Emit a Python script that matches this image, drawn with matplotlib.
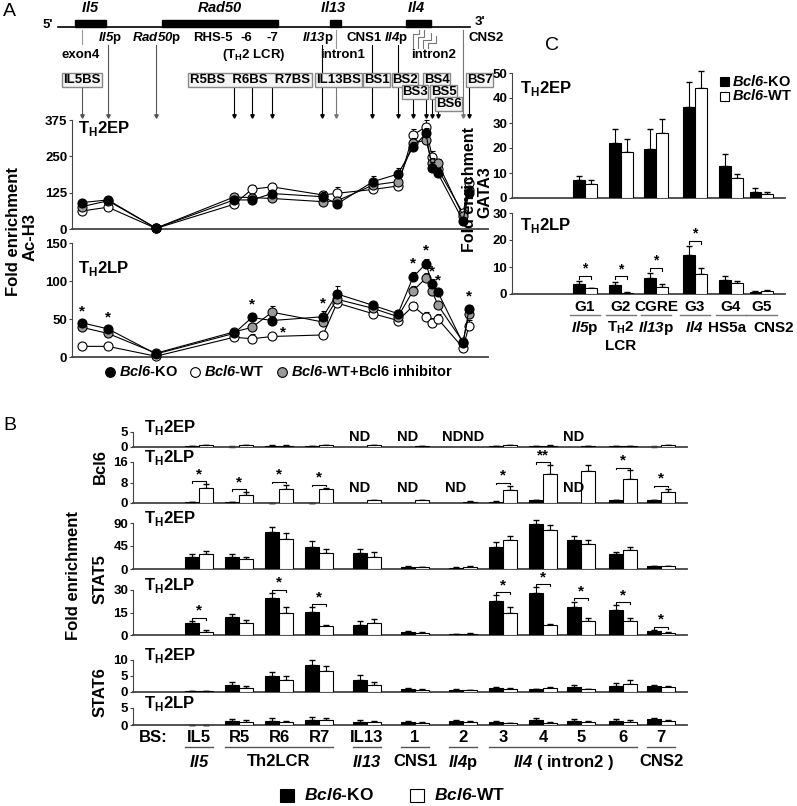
import numpy as np
import matplotlib
matplotlib.use("Agg")
import matplotlib.pyplot as plt
from matplotlib.patches import Rectangle

plt.rcParams['font.family'] = 'Liberation Sans'
plt.rcParams['font.weight'] = 'bold'
plt.rcParams['mathtext.fontset'] = 'custom'
plt.rcParams['mathtext.rm'] = 'Liberation Sans:bold'
plt.rcParams['mathtext.sf'] = 'Liberation Sans:italic:bold'
plt.rcParams['mathtext.bf'] = 'Liberation Sans:bold'

# ---------------- data ----------------
# panel A: Ac-H3 across the Th2 locus (site positions on the locus map)
a_sites = [82, 108, 156, 234, 252, 272, 323, 337, 373, 398, 413, 426, 432, 438, 463, 469]
ep_ko = [91, 100, 3, 100, 100, 122, 111, 86, 163, 189, 281, 329, 209, 191, 29, 125]
ep_wt = [62, 75, 2, 85, 137, 145, 117, 123, 136, 148, 323, 352, 249, 206, 54, 157]
ep_inh = [77, 97, 3, 110, 108, 105, 94, 97, 151, 163, 295, 306, 226, 226, 45, 134]
ep_ko_err = [8, 10, 1, 12, 15, 12, 15, 12, 18, 20, 20, 20, 20, 18, 6, 15]
ep_wt_err = [8, 10, 1, 15, 15, 12, 15, 22, 14, 18, 20, 22, 18, 15, 8, 18]
ep_inh_err = [8, 10, 1, 12, 12, 10, 12, 12, 15, 16, 18, 18, 18, 15, 6, 15]
lp_ko = [45, 37, 4, 31, 52, 48, 53, 83, 68, 57, 105, 123, 96, 85, 18, 63]
lp_wt = [14, 14, 1, 26, 24, 27, 29, 71, 57, 48, 67, 53, 45, 50, 12, 41]
lp_inh = [39, 31, 5, 33, 39, 59, 46, 76, 64, 53, 87, 104, 87, 68, 20, 57]
lp_ko_err = [4, 4, 1, 4, 6, 5, 7, 10, 5, 5, 7, 6, 6, 5, 3, 5]
lp_wt_err = [2, 2, 1, 3, 6, 5, 4, 5, 8, 5, 5, 6, 6, 6, 3, 8]
lp_inh_err = [4, 4, 1, 4, 6, 8, 5, 6, 6, 5, 6, 6, 6, 5, 3, 5]
lp_star = [0, 1, 4, 6, 10, 11, 12, 13, 15]

# panel B: binding sites
b_sites = ['IL5', 'R5', 'R6', 'R7', 'IL13', '1', '2', '3', '4', '5', '6', '7']
nan = np.nan
bcl6_ep_ko = [0.2, 0.1, 0.4, 0.3, nan, nan, nan, 0.3, 0.3, nan, 0.2, 0.1]
bcl6_ep_wt = [0.5, 0.6, 0.4, 0.6, 0.5, 0.2, nan, 0.5, 0.4, 0.3, 0.2, 0.5]
bcl6_ep_ko_err = [0.1] * 12
bcl6_ep_wt_err = [0.1] * 12
bcl6_lp_ko = [0.2, 0.2, 0.1, 0.1, nan, nan, nan, 0.5, 1.1, nan, 1.0, 1.0]
bcl6_lp_wt = [6.0, 3.3, 5.3, 5.3, 1.2, 1.2, 0.5, 4.9, 11.3, 12.3, 9.2, 4.2]
bcl6_lp_ko_err = [0.05, 0.05, 0.05, 0.05, 0, 0, 0, 0.1, 0.2, 0, 0.2, 0.2]
bcl6_lp_wt_err = [1.3, 1.0, 1.9, 0.7, 0.1, 0.1, 0.1, 1.9, 3.5, 2.5, 3.5, 1.4]
stat5_ep_ko = [23, 23, 72, 44, 31, 4.5, 2.5, 43, 88, 57, 29, 6]
stat5_ep_wt = [30, 20, 59, 31, 23, 3, 4.5, 57, 77, 49, 37, 5]
stat5_ep_ko_err = [7, 7, 10, 11, 8, 1, 0.5, 10, 8, 8, 5, 0.5]
stat5_ep_wt_err = [5, 3, 12, 9, 11, 0.5, 0.5, 8, 9, 7, 6, 0.5]
stat5_lp_ko = [7.9, 11.7, 24.4, 15.3, 7, 2.1, 0.8, 23, 28.2, 19, 16.6, 2.8]
stat5_lp_wt = [2.1, 7.9, 14.9, 5.7, 8, 1.5, 1.0, 14.9, 6.4, 9.6, 9.6, 1.5]
stat5_lp_ko_err = [1.4, 2.1, 3.6, 3.2, 2.5, 0.5, 0.2, 3.5, 3.6, 3.3, 3.1, 0.6]
stat5_lp_wt_err = [1.1, 2.1, 3.6, 1.1, 3, 0.3, 0.2, 3.6, 1.0, 1.7, 1.7, 0.3]
stat6_ep_ko = [0.2, 2.1, 4.9, 8.3, 3.9, 0.8, 0.6, 1.25, 0.8, 1.5, 1.9, 1.9]
stat6_ep_wt = [0.2, 1.25, 3.6, 6.5, 2.1, 0.7, 0.6, 0.8, 1.25, 0.8, 2.6, 1.5]
stat6_ep_ko_err = [0.05, 1.0, 1.35, 1.6, 1.3, 0.4, 0.2, 0.4, 0.2, 0.8, 0.9, 0.4]
stat6_ep_wt_err = [0.05, 0.5, 1.4, 1.5, 1.0, 0.2, 0.1, 0.4, 0.4, 0.2, 1.0, 0.3]
stat6_lp_ko = [0.1, 1.2, 1.3, 1.6, 1.0, 0.9, 1.3, 1.0, 1.5, 1.3, 1.3, 1.7]
stat6_lp_wt = [0.1, 1.0, 0.9, 1.4, 0.8, 0.7, 1.0, 0.6, 0.7, 0.9, 1.0, 1.1]
stat6_lp_ko_err = [0.02, 0.6, 0.7, 0.9, 0.5, 0.2, 0.2, 0.2, 0.7, 0.5, 0.5, 0.4]
stat6_lp_wt_err = [0.02, 0.5, 0.3, 0.7, 0.4, 0.1, 0.3, 0.1, 0.2, 0.4, 0.5, 0.3]
bcl6_lp_star = [0, 1, 2, 3, 7, 8, 10, 11]
stat5_lp_star = [0, 2, 3, 7, 8, 9, 10, 11]

# panel C: GATA3
c_sites = ['G1', 'G2', 'CGRE', 'G3', 'G4', 'G5']
c_regions = ['$\\mathsf{Il5}$p', 'T$_\\mathrm{H}$2', '$\\mathsf{Il13}$p', '$\\mathsf{Il4}$', 'HS5a', 'CNS2']
gata_ep_ko = [7.2, 22, 19.5, 36.5, 12.8, 2.6]
gata_ep_wt = [5.7, 18.5, 26, 44, 7.9, 1.7]
gata_ep_ko_err = [1.6, 5.5, 8, 10, 5, 1.3]
gata_ep_wt_err = [1.4, 5, 5.5, 7, 1.8, 0.9]
gata_lp_ko = [3.7, 3.3, 6.0, 14.4, 5.2, 0.9]
gata_lp_wt = [2.2, 0.5, 2.7, 7.4, 3.9, 1.1]
gata_lp_ko_err = [1.0, 1.2, 1.6, 3.2, 1.6, 0.2]
gata_lp_wt_err = [0.2, 0.1, 1.0, 2.4, 0.8, 0.4]
gata_lp_star = [0, 1, 2, 3]

# ---------------- figure ----------------
W, H = 797, 806
fig = plt.figure(figsize=(W / 100, H / 100), dpi=100)
AX_COL = '#444444'


def box(l, t, r, b):
    ax = fig.add_axes([l / W, 1 - b / H, (r - l) / W, (b - t) / H])
    ax.px = (t, b)
    return ax


def yfrac(ax, p):
    t, b = ax.px
    return (b - p) / (b - t)


def style(ax, ymax, ticks, fs=9.5):
    ax.set_ylim(0, ymax)
    ax.set_yticks(ticks)
    ax.set_yticklabels([str(t) for t in ticks], fontsize=fs, fontweight='bold')
    ax.set_xticks([])
    for s in ['top', 'right']:
        ax.spines[s].set_visible(False)
    ax.spines['left'].set_color(AX_COL)
    ax.spines['bottom'].set_color(AX_COL)
    ax.spines['left'].set_linewidth(0.8)
    ax.spines['bottom'].set_linewidth(1.3)
    ax.tick_params(axis='y', length=2.5, width=0.8, color=AX_COL, pad=1)
    ax.patch.set_alpha(0)


def hline(ax, x0, x1, p, color='#555555'):
    y = yfrac(ax, p)
    ax.plot([x0, x1], [y, y], color=color, lw=1, transform=ax.get_xaxis_transform(), clip_on=False)


def below(ax, x, txt, p, fs=12):
    ax.text(x, yfrac(ax, p), txt, transform=ax.get_xaxis_transform(), ha='center', va='center',
            fontsize=fs, clip_on=False)


# ---------- Panel A: locus map ----------
fig.text(3 / W, 1 - 11 / H, 'A', fontsize=14, fontweight='normal', va='center')
mp = box(0, 0, 500, 120)
mp.set_xlim(0, 500)
mp.set_ylim(120, 0)
mp.axis('off')
mp.plot([58, 470], [27, 27], color='k', lw=1.2)
for x0, w in [(75, 31), (162, 116), (330, 11), (406, 25)]:
    mp.add_patch(Rectangle((x0, 20), w, 7, color='k'))
for txt, x in [('$\\mathsf{Il5}$', 90), ('$\\mathsf{Rad50}$', 220), ('$\\mathsf{Il13}$', 333), ('$\\mathsf{Il4}$', 416)]:
    mp.text(x, 8, txt, ha='center', va='center', fontsize=10.5)
mp.text(48, 25, "5'", ha='center', va='center', fontsize=9.5)
mp.text(480, 22, "3'", ha='center', va='center', fontsize=9.5)
for txt, x in [('$\\mathsf{Il5}$p', 110), ('$\\mathsf{Rad50}$p', 157), ('RHS-5', 213), ('-6', 246),
               ('-7', 272), ('$\\mathsf{Il13}$p', 318), ('CNS1', 364), ('$\\mathsf{Il4}$p', 396), ('CNS2', 486)]:
    mp.text(x, 38, txt, ha='center', va='center', fontsize=9.5)
for txt, x in [('exon4', 81), ('(T$_\\mathrm{H}$2 LCR)', 254), ('intron1', 343), ('intron2', 434)]:
    mp.text(x, 55, txt, ha='center', va='center', fontsize=9.5)
for txt, x0, x1, y in [('IL5BS', 62, 102, 80), ('R5BS  R6BS  R7BS', 188, 312, 80), ('IL13BS', 315, 362, 80),
                       ('BS1', 363, 390, 80), ('BS2', 392, 418, 80), ('BS4', 423, 450, 80), ('BS7', 466, 493, 80),
                       ('BS3', 402, 428, 92), ('BS5', 430, 457, 92), ('BS6', 435, 462, 104)]:
    mp.add_patch(Rectangle((x0, y - 7), x1 - x0, 14, facecolor='#f4f4f4', edgecolor='#888888', lw=1, zorder=3))
    mp.text((x0 + x1) / 2, y, txt, ha='center', va='center', fontsize=9.5, zorder=4)
# connector lines to the sites
line_spans = [(82, 30, 44, '#999999'), (82, 87, 116, '#555555'), (108, 45, 116, '#555555'),
              (156, 45, 116, '#555555'), (234, 87, 116, 'k'), (252, 87, 116, 'k'), (272, 87, 116, 'k'),
              (322, 45, 116, 'k'), (336, 30, 48, '#999999'), (336, 87, 116, '#777777'),
              (372, 45, 116, 'k'), (398, 45, 116, 'k'), (413, 99, 116, 'k'), (426, 87, 116, 'k'),
              (432, 99, 116, 'k'), (438, 111, 116, 'k'), (463, 30, 116, '#777777'), (469, 87, 116, 'k')]
for x, y0, y1, c in line_spans:
    mp.plot([x, x], [y0, y1], color=c, lw=0.8, zorder=1)
    if y1 > 110:
        mp.plot(x, y1, marker='v', ms=2.5, color=c, zorder=1)
for xs, ys in [([413, 413, 419, 419], [48, 34, 34, 30]), ([418, 418, 424, 424], [48, 37, 37, 30]),
               ([423, 423, 431, 431], [48, 40, 40, 33]), ([428, 428, 436, 436], [48, 43, 43, 36])]:
    mp.plot(xs, ys, color='#777777', lw=0.8)

# ---------- Panel A: Ac-H3 line plots ----------
def a_plot(ax, ko, wt, inh, ko_e, wt_e, inh_e):
    for vals, errs, fc, z in [(wt, wt_e, 'white', 3), (inh, inh_e, '#9a9a9a', 4), (ko, ko_e, 'black', 5)]:
        ax.errorbar(a_sites, vals, yerr=[np.zeros(len(errs)), errs], fmt='-o', color='black', lw=0.8,
                    ms=6.5, mfc=fc, mec='black', mew=0.8, capsize=1.8, elinewidth=0.7, zorder=z,
                    clip_on=False)
    ax.set_xlim(72, 488)


ax_a1 = box(72, 120, 488, 229)
a_plot(ax_a1, ep_ko, ep_wt, ep_inh, ep_ko_err, ep_wt_err, ep_inh_err)
style(ax_a1, 375, [0, 125, 250, 375])
ax_a1.text(78, 345, 'T$_\\mathrm{H}$2EP', fontsize=12, va='center')

ax_a2 = box(72, 243, 488, 357)
a_plot(ax_a2, lp_ko, lp_wt, lp_inh, lp_ko_err, lp_wt_err, lp_inh_err)
style(ax_a2, 150, [0, 50, 100, 150])
ax_a2.text(78, 117, 'T$_\\mathrm{H}$2LP', fontsize=12, va='center')
for i in lp_star:
    ax_a2.annotate('*', (a_sites[i], lp_ko[i] + lp_ko_err[i]), xytext=(0, 1), textcoords='offset points',
                   ha='center', va='bottom', fontsize=11)
ax_a2.annotate('*', (a_sites[5], lp_ko[5]), xytext=(8, -14), textcoords='offset points',
               ha='center', va='bottom', fontsize=11)

fig.text(14 / W, 1 - 232 / H, 'Fold enrichment', rotation=90, ha='center', va='center', fontsize=12)
fig.text(30 / W, 1 - 237 / H, 'Ac-H3', rotation=90, ha='center', va='center', fontsize=12)

# legend A
lg = box(95, 362, 480, 382)
lg.set_xlim(95, 480)
lg.set_ylim(0, 1)
lg.axis('off')
for x, fc, txt in [(110, 'black', '$\\mathsf{Bcl6}$-KO'), (195, 'white', '$\\mathsf{Bcl6}$-WT'),
                   (282, '#9a9a9a', '$\\mathsf{Bcl6}$-WT+Bcl6 inhibitor')]:
    lg.plot(x, 0.5, 'o', ms=7, mfc=fc, mec='black', mew=0.8)
    lg.text(x + 9, 0.5, txt, va='center', fontsize=10.5)

# ---------- Panel B ----------
fig.text(3 / W, 1 - 425 / H, 'B', fontsize=14, fontweight='normal', va='center')
b_pos = np.array([0, 1, 2, 3, 4.2, 5.4, 6.6, 7.6, 8.6, 9.55, 10.6, 11.55])
B_UNIT = 40.0
B_X0 = 199
bw = 0.35


def bar_pair(ax, pos, ko, wt, ko_e, wt_e, width):
    ko = np.array(ko, float)
    wt = np.array(wt, float)
    ax.bar(pos - width / 2, ko, width, color='black', edgecolor='black', lw=0.8, zorder=3)
    ax.bar(pos + width / 2, wt, width, color='white', edgecolor='black', lw=0.8, zorder=3)
    m = ~np.isnan(ko)
    ax.errorbar(pos[m] - width / 2, ko[m], yerr=[np.zeros(m.sum()), np.array(ko_e)[m]], fmt='none',
                ecolor='black', elinewidth=0.8, capsize=2, zorder=2, clip_on=False)
    m = ~np.isnan(wt)
    ax.errorbar(pos[m] + width / 2, wt[m], yerr=[np.zeros(m.sum()), np.array(wt_e)[m]], fmt='none',
                ecolor='black', elinewidth=0.8, capsize=2, zorder=2, clip_on=False)


def brackets(ax, pos, idx, ko, wt, ko_e, wt_e, width, ymax, labels=None, fs=11):
    for i in idx:
        top = np.nanmax([ko[i] + ko_e[i], wt[i] + wt_e[i]])
        y = top + 0.07 * ymax
        x0, x1 = pos[i] - width / 2, pos[i] + width / 2
        ax.plot([x0, x0, x1, x1], [y - 0.04 * ymax, y, y, y - 0.04 * ymax], color='black', lw=0.8,
                clip_on=False)
        lab = '*' if labels is None or i not in labels else labels[i]
        ax.text(pos[i], y, lab, ha='center', va='bottom', fontsize=fs, clip_on=False)


b_axes = [
    ((432, 447), 5, [0, 5], bcl6_ep_ko, bcl6_ep_wt, bcl6_ep_ko_err, bcl6_ep_wt_err, 'EP', None),
    ((462, 503), 16, [0, 8, 16], bcl6_lp_ko, bcl6_lp_wt, bcl6_lp_ko_err, bcl6_lp_wt_err, 'LP', bcl6_lp_star),
    ((523, 569), 90, [0, 45, 90], stat5_ep_ko, stat5_ep_wt, stat5_ep_ko_err, stat5_ep_wt_err, 'EP', None),
    ((590, 635), 30, [0, 15, 30], stat5_lp_ko, stat5_lp_wt, stat5_lp_ko_err, stat5_lp_wt_err, 'LP', stat5_lp_star),
    ((660, 692), 10, [0, 5, 10], stat6_ep_ko, stat6_ep_wt, stat6_ep_ko_err, stat6_ep_wt_err, 'EP', None),
    ((708, 725), 5, [0, 5], stat6_lp_ko, stat6_lp_wt, stat6_lp_ko_err, stat6_lp_wt_err, 'LP', None),
]
b_xlim = ((133 - B_X0) / B_UNIT, (687 - B_X0) / B_UNIT)
b_ax_list = []
for (t, b), ymax, ticks, ko, wt, ko_e, wt_e, stage, stars in b_axes:
    ax = box(133, t, 687, b)
    bar_pair(ax, b_pos, ko, wt, ko_e, wt_e, bw)
    style(ax, ymax, ticks, fs=9.5)
    ax.set_xlim(*b_xlim)
    ax.annotate('T$_\\mathrm{H}$2' + stage, (0, 1), xycoords='axes fraction', xytext=(8, 3),
                textcoords='offset points', va='center', fontsize=12)
    if stars is not None:
        brackets(ax, b_pos, stars, np.nan_to_num(ko), wt, ko_e, wt_e, bw, ymax,
                 labels={8: '**'} if ymax == 16 else None)
    b_ax_list.append(ax)

# ND labels in Bcl6 panels
for ax, entries in [(b_ax_list[0], [(4, -1), (5, -1), (6, -1.5), (6, 1.5), (9, -1)]),
                    (b_ax_list[1], [(4, -1), (5, -1), (6, -1), (9, -1)])]:
    for i, side in entries:
        ax.text(b_pos[i] + side * bw / 2, 0.2 * ax.get_ylim()[1], 'ND', ha='center', va='bottom', fontsize=10.5)

# bottom site labels
ax_last = b_ax_list[-1]
below(ax_last, (153 - B_X0) / B_UNIT, 'BS:', 738)
for p, s in zip(b_pos, b_sites):
    below(ax_last, p, s, 738)
for i0, i1, txt in [(0, 0, '$\\mathsf{Il5}$'), (1, 3, 'Th2LCR'), (4, 4, '$\\mathsf{Il13}$'), (5, 5, 'CNS1'),
                    (6, 6, '$\\mathsf{Il4}$p'), (7, 10, '$\\mathsf{Il4}$ ( intron2 )'), (11, 11, 'CNS2')]:
    hline(ax_last, b_pos[i0] - 0.35, b_pos[i1] + 0.35, 747)
    below(ax_last, (b_pos[i0] + b_pos[i1]) / 2, txt, 762)

fig.text(73 / W, 1 - 575 / H, 'Fold enrichment', rotation=90, ha='center', va='center', fontsize=12)
for txt, y in [('Bcl6', 467), ('STAT5', 579), ('STAT6', 692)]:
    fig.text(100 / W, 1 - y / H, txt, rotation=90, ha='center', va='center', fontsize=12)

# legend B
lgb = box(270, 785, 520, 805)
lgb.set_xlim(270, 520)
lgb.set_ylim(805, 785)
lgb.axis('off')
for x, fc, txt in [(280, 'black', '$\\mathsf{Bcl6}$-KO'), (410, 'white', '$\\mathsf{Bcl6}$-WT')]:
    lgb.add_patch(Rectangle((x, 789), 14, 13, facecolor=fc, edgecolor='black', lw=0.8))
    lgb.text(x + 24, 795.5, txt, va='center', fontsize=12.5)

# ---------- Panel C ----------
fig.text(545 / W, 1 - 45 / H, 'C', fontsize=14, fontweight='normal', va='center')
c_pos = np.array([0, 1, 1.97, 3.05, 4.05, 4.9])
C_UNIT = 36.0
C_X0 = 585
cw = 0.33
c_xlim = ((512 - C_X0) / C_UNIT, (785 - C_X0) / C_UNIT)

ax_c1 = box(512, 73, 785, 198)
bar_pair(ax_c1, c_pos, gata_ep_ko, gata_ep_wt, gata_ep_ko_err, gata_ep_wt_err, cw)
style(ax_c1, 50, [0, 10, 20, 30, 40, 50], fs=9.5)
ax_c1.set_xlim(*c_xlim)
ax_c1.text(0.03, 0.88, 'T$_\\mathrm{H}$2EP', transform=ax_c1.transAxes, fontsize=12, va='center')

ax_c2 = box(512, 213, 785, 294)
bar_pair(ax_c2, c_pos, gata_lp_ko, gata_lp_wt, gata_lp_ko_err, gata_lp_wt_err, cw)
style(ax_c2, 30, [0, 10, 20, 30], fs=9.5)
ax_c2.set_xlim(*c_xlim)
ax_c2.text(0.03, 0.85, 'T$_\\mathrm{H}$2LP', transform=ax_c2.transAxes, fontsize=12, va='center')
brackets(ax_c2, c_pos, gata_lp_star, gata_lp_ko, gata_lp_wt, gata_lp_ko_err, gata_lp_wt_err, cw, 30, fs=10)

for p, s in zip(c_pos, c_sites):
    below(ax_c2, p, s, 307, fs=11)
    hline(ax_c2, p - 0.42, p + 0.42, 315, color='#777777')
c_label_shift = [0, 0, 0, 0, -0.1, 0.33]
for p, s, d in zip(c_pos, c_regions, c_label_shift):
    below(ax_c2, p + d, s, 328, fs=11)
below(ax_c2, c_pos[1], 'LCR', 346, fs=11)

fig.text(470 / W, 1 - 190 / H, 'Fold enrichment', rotation=90, ha='center', va='center', fontsize=11.5)
fig.text(485 / W, 1 - 192 / H, 'GATA3', rotation=90, ha='center', va='center', fontsize=11.5)

lgc = box(715, 72, 797, 104)
lgc.set_xlim(715, 797)
lgc.set_ylim(104, 72)
lgc.axis('off')
for y, fc, txt in [(81, 'black', '$\\mathsf{Bcl6}$-KO'), (96, 'white', '$\\mathsf{Bcl6}$-WT')]:
    lgc.add_patch(Rectangle((720, y - 4.5), 9, 9, facecolor=fc, edgecolor='black', lw=0.8))
    lgc.text(732, y, txt, va='center', fontsize=10.5)

fig.savefig('out.png', dpi=100)
